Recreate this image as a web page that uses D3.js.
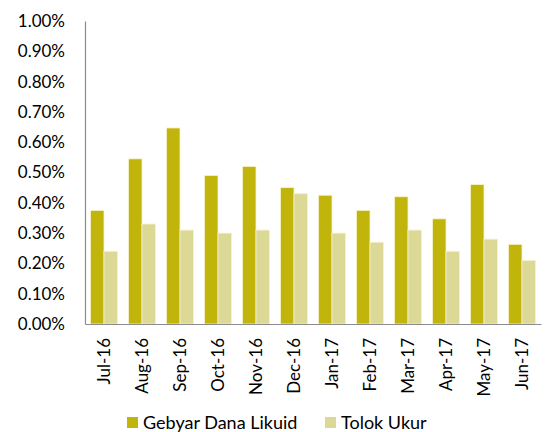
<!DOCTYPE html>
<html>
<head>
<meta charset="utf-8">
<script src="https://cdn.jsdelivr.net/npm/d3@7"></script>
<style>
  body { margin: 0; background: #fff; }
  text { font-family: Lato, "Open Sans", sans-serif; fill: #000; }
</style>
</head>
<body>
<div id="chart"></div>
<script>
var months  = ["Jul-16", "Aug-16", "Sep-16", "Oct-16", "Nov-16", "Dec-16",
               "Jan-17", "Feb-17", "Mar-17", "Apr-17", "May-17", "Jun-17"];
var gebyar  = [0.375, 0.545, 0.647, 0.49, 0.52, 0.45, 0.425, 0.375, 0.42, 0.347, 0.46, 0.263];
var tolok   = [0.24, 0.33, 0.31, 0.30, 0.31, 0.43, 0.30, 0.27, 0.31, 0.24, 0.28, 0.21];
var series  = ["Gebyar Dana Likuid", "Tolok Ukur"];
var yTicks  = [0, 0.1, 0.2, 0.3, 0.4, 0.5, 0.6, 0.7, 0.8, 0.9, 1.0];

var colors = ["#c1b40a", "#dcd896"];

// Set the dimensions of the canvas / graph
var margin = {top: 21, right: 6, bottom: 108, left: 85},
    width  = 547 - margin.left - margin.right,
    height = 432 - margin.top - margin.bottom;

var svg = d3.select("#chart").append("svg")
      .attr("width", 547)
      .attr("height", 432);

var g = svg.append("g")
      .attr("transform", "translate(" + margin.left + "," + margin.top + ")");

var x = d3.scaleBand().domain(months).range([0, width]).paddingInner(0.29).paddingOuter(0.145);
var xs = d3.scaleBand().domain(series).range([0, x.bandwidth()]);
var y = d3.scaleLinear().domain([0, 1]).range([height, 0]);

var rows = months.map(function (m, i) { return {month: m, vals: [gebyar[i], tolok[i]]}; });

var groups = g.selectAll(".grp")
      .data(rows)
      .enter()
      .append("g")
      .attr("transform", function (d) { return "translate(" + x(d.month) + ",0)"; });

groups.selectAll("rect")
      .data(function (d) { return d.vals.map(function (v, j) { return {s: series[j], v: v, j: j}; }); })
      .enter()
      .append("rect")
      .attr("x", function (d) { return xs(d.s); })
      .attr("width", xs.bandwidth())
      .attr("y", function (d) { return y(d.v); })
      .attr("height", function (d) { return height - y(d.v); })
      .style("fill", function (d) { return colors[d.j]; })
      .style("stroke", "#f7f3cf")
      .style("stroke-width", 0.8);

// axes
var yAxis = g.append("g")
      .call(d3.axisLeft(y).tickValues(yTicks).tickSize(0).tickPadding(20)
              .tickFormat(function (d) { return d.toFixed(2) + "%"; }));
yAxis.selectAll("text").style("font-size", "17px");
yAxis.select(".domain").attr("stroke", "#8c8c8c").attr("stroke-width", 1.2);

var xAxis = g.append("g")
      .attr("transform", "translate(0," + height + ")")
      .call(d3.axisBottom(x).tickSize(0).tickPadding(0));
xAxis.select(".domain").attr("stroke", "#8c8c8c").attr("stroke-width", 1.2);
xAxis.selectAll("text")
      .style("font-size", "17px")
      .attr("text-anchor", "end")
      .attr("dy", "0.35em")
      .attr("transform", "translate(0,14) rotate(-90)")
      .attr("y", 0)
      .attr("x", 0);

// legend
var legend = svg.append("g").attr("transform", "translate(127,417)");
var items = legend.selectAll("g")
      .data(series)
      .enter()
      .append("g")
      .attr("transform", function (d, i) { return "translate(" + (i * 198) + ",0)"; });
items.append("rect")
      .attr("width", 11)
      .attr("height", 11)
      .style("fill", function (d, i) { return colors[i]; });
items.append("text")
      .attr("x", 16)
      .attr("y", 11.5)
      .style("font-size", "18px")
      .text(function (d) { return d; });
</script>
</body>
</html>
